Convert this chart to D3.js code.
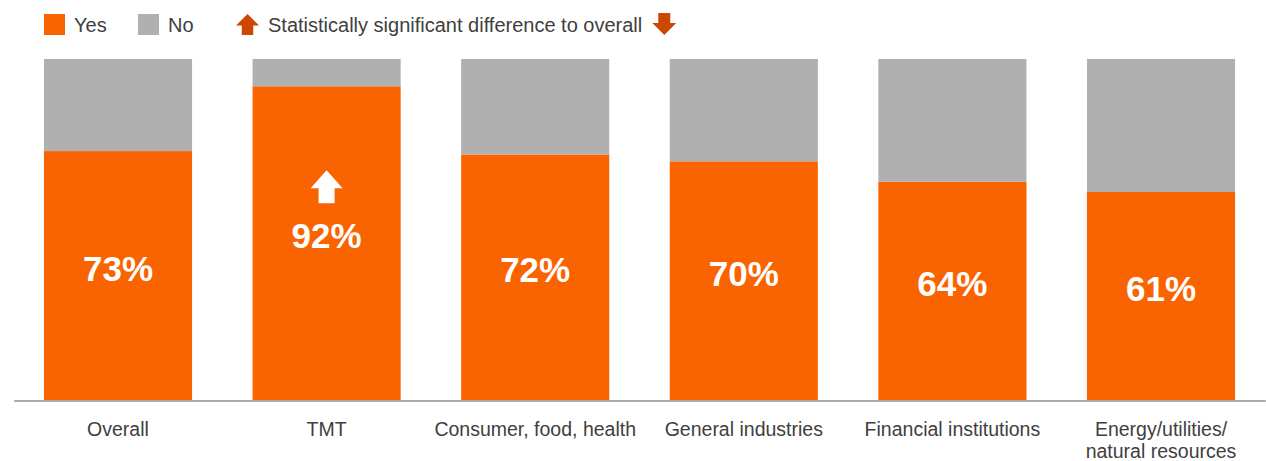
<!DOCTYPE html>
<html>
<head>
<meta charset="utf-8">
<script src="https://cdn.jsdelivr.net/npm/d3@7"></script>
<style>
  html, body { margin: 0; padding: 0; background: #ffffff; }
  svg { display: block; }
  .lbl { font-family: "Liberation Sans", Arial, sans-serif; fill: #404040; }
  .val { font-family: "Liberation Sans", Arial, sans-serif; font-weight: bold; fill: #ffffff; }
</style>
</head>
<body>
<svg id="chart" width="1266" height="461"></svg>
<script>
// Share of respondents answering yes / no, by sector
const categories = [
  "Overall",
  "TMT",
  "Consumer, food, health",
  "General industries",
  "Financial institutions",
  "Energy/utilities/\nnatural resources"
];
const yesValues = [73, 92, 72, 70, 64, 61];
const noValues  = [27, 8, 28, 30, 36, 39];
// significance versus overall: "up", "down" or ""
const significance = ["", "up", "", "", "", ""];
const seriesNames = ["Yes", "No"];
const sigLegendText = "Statistically significant difference to overall";

const W = 1266, H = 461;
const COLORS = { Yes: "#fa6400", No: "#b0b0b0" };
const ARROW_COLOR = "#cc4700";
const svg = d3.select("#chart");

const x = d3.scaleBand()
  .domain(categories)
  .range([13.7, 1265.3])
  .paddingInner(0.29)
  .paddingOuter(0.145);

const y = d3.scaleLinear().domain([0, 100]).range([400, 59]);

const rows = categories.map((c, i) => ({ cat: c, yes: yesValues[i], no: noValues[i], sig: significance[i] }));
const stack = d3.stack().keys(["yes", "no"])(rows);

// stacked bars
svg.append("g").selectAll("g")
  .data(stack)
  .join("g")
  .attr("fill", d => d.key === "yes" ? COLORS.Yes : COLORS.No)
  .selectAll("rect")
  .data(d => d)
  .join("rect")
  .attr("x", d => x(d.data.cat))
  .attr("width", x.bandwidth())
  .attr("y", d => y(d[1]))
  .attr("height", d => y(d[0]) - y(d[1]));

// arrow path centred on (cx, top), w wide, h tall
function arrowPath(cx, top, w, h, dir) {
  const headH = h * 0.55, shaftW = w * 0.5;
  let pts;
  if (dir === "up") {
    pts = [[cx, top], [cx + w / 2, top + headH], [cx + shaftW / 2, top + headH],
           [cx + shaftW / 2, top + h], [cx - shaftW / 2, top + h],
           [cx - shaftW / 2, top + headH], [cx - w / 2, top + headH]];
  } else {
    pts = [[cx, top + h], [cx + w / 2, top + h - headH], [cx + shaftW / 2, top + h - headH],
           [cx + shaftW / 2, top], [cx - shaftW / 2, top],
           [cx - shaftW / 2, top + h - headH], [cx - w / 2, top + h - headH]];
  }
  return "M" + pts.map(p => p.join(",")).join("L") + "Z";
}

// value labels inside the yes segment
const labels = svg.append("g");
rows.forEach(r => {
  const cx = x(r.cat) + x.bandwidth() / 2;
  const mid = (y(r.yes) + y(0)) / 2;
  const base = mid + 5;
  labels.append("text")
    .attr("class", "val")
    .attr("x", cx)
    .attr("y", base)
    .attr("text-anchor", "middle")
    .attr("font-size", 35)
    .text(r.yes + "%");
  if (r.sig) {
    labels.append("path")
      .attr("d", arrowPath(cx, base - 78, 32, 33, r.sig))
      .attr("fill", "#ffffff");
  }
});

// category axis
const axis = svg.append("g")
  .attr("transform", "translate(0,400.5)")
  .call(d3.axisBottom(x).tickSize(0).tickSizeOuter(0).tickFormat(""));
axis.select(".domain").attr("stroke", "#8f8f8f").attr("stroke-width", 1.5);
axis.selectAll(".tick").each(function (d) {
  const lines = d.split("\n");
  const t = d3.select(this).append("text")
    .attr("class", "lbl")
    .attr("text-anchor", "middle")
    .attr("font-size", 19.5)
    .attr("y", 35);
  lines.forEach((ln, k) => {
    t.append("tspan").attr("x", 0).attr("dy", k === 0 ? 0 : 22).text(ln);
  });
});

// legend
const legend = svg.append("g");
const legendItems = [
  { name: seriesNames[0], color: COLORS.Yes, x: 44 },
  { name: seriesNames[1], color: COLORS.No, x: 138 }
];
legendItems.forEach(it => {
  legend.append("rect").attr("x", it.x).attr("y", 14).attr("width", 21).attr("height", 21).attr("fill", it.color);
  legend.append("text").attr("class", "lbl").attr("x", it.x + 30).attr("y", 32)
    .attr("font-size", 20).text(it.name);
});
legend.append("path").attr("d", arrowPath(247.5, 14, 23, 21, "up")).attr("fill", ARROW_COLOR);
const sigText = legend.append("text").attr("class", "lbl").attr("x", 268).attr("y", 32)
  .attr("font-size", 20).text(sigLegendText);
const sigEnd = 268 + sigText.node().getComputedTextLength();
legend.append("path").attr("d", arrowPath(sigEnd + 22, 13, 24, 22, "down")).attr("fill", ARROW_COLOR);
</script>
</body>
</html>
